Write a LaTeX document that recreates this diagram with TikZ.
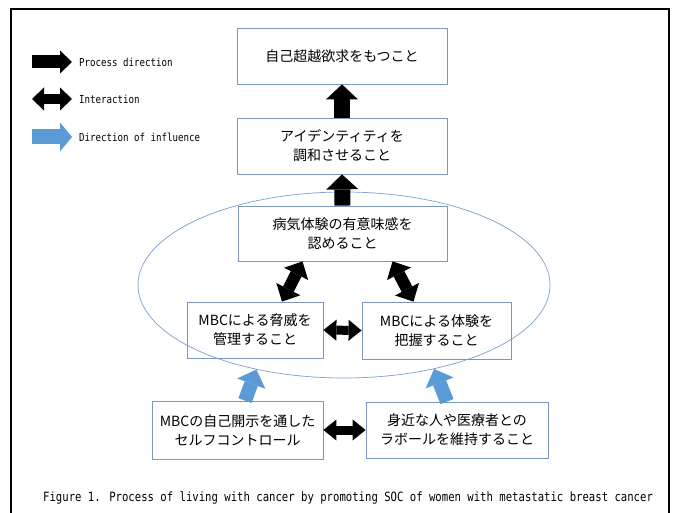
\documentclass[tikz,border=0pt]{standalone}
\usepackage{fontspec}
\newfontfamily\jp{Noto Sans CJK JP}
\newfontfamily\mono[FakeStretch=0.83]{DejaVu Sans Mono}
\usetikzlibrary{arrows.meta,shapes.geometric}
\definecolor{boxc}{HTML}{7D96BE}
\definecolor{ovalc}{HTML}{7BA0CD}
\definecolor{infl}{HTML}{5B9BD5}
\tikzset{
  box/.style={draw=boxc, line width=0.8pt, inner sep=0pt, align=center,
    font=\jp\fontsize{14}{19}\selectfont},
  procarrow/.style={line width=16pt, -{Triangle[length=15pt,width=32pt,line width=0pt]}},
  interarrow/.style={line width=12pt, {Triangle[length=14pt,width=27pt,line width=0pt]}-{Triangle[length=14pt,width=27pt,line width=0pt]}},
  harrow/.style={line width=9pt, {Triangle[length=13pt,width=21pt,line width=0pt]}-{Triangle[length=13pt,width=21pt,line width=0pt]}},
  inflarrow/.style={draw=infl, line width=14pt, -{Triangle[length=15pt,width=30pt,line width=0pt]}},
  legtext/.style={anchor=west, inner sep=0pt, font=\mono\fontsize{11}{13}\selectfont},
}
\begin{document}
\begin{tikzpicture}[x=1pt,y=-1pt]
\useasboundingbox (0,0) rectangle (674,513);
\fill[white] (0,0) rectangle (674,513);
% frame
\draw[line width=2pt] (11,520) -- (11,9) -- (669,9) -- (669,520);
% legend
\coordinate (pa) at (32,62);  \coordinate (pb) at (72,62);
\coordinate (ia) at (32,99);  \coordinate (ib) at (72,99);
\coordinate (da) at (32,137); \coordinate (db) at (72,137);
\draw[line width=13pt, -{Triangle[length=12pt,width=23pt,line width=0pt]}] (pa) -- (pb);
\draw[line width=10pt, {Triangle[length=12pt,width=23pt,line width=0pt]}-{Triangle[length=12pt,width=23pt,line width=0pt]}] (ia) -- (ib);
\draw[draw=infl, line width=15pt, -{Triangle[length=12pt,width=29pt,line width=0pt]}] (da) -- (db);
\node[legtext] (lt1) at (79,62) {Process direction};
\node[legtext] (lt2) at (79,99) {Interaction};
\node[legtext] (lt3) at (79,137) {Direction of influence};
% ellipse
\node[draw=ovalc, line width=0.7pt, ellipse, inner sep=0pt, minimum width=412pt, minimum height=186pt] (oval) at (344,285) {};
% boxes
\node[box, minimum width=210pt, minimum height=56pt] (b1) at (342,56) {自己超越欲求をもつこと};
\node[box, minimum width=210pt, minimum height=56pt] (b2) at (342,146) {アイデンティティを\\調和させること};
\node[box, minimum width=209pt, minimum height=55pt] (b3) at (342.5,233.5) {病気体験の有意味感を\\認めること};
\node[box, minimum width=136pt, minimum height=56pt] (b4) at (255,330) {MBCによる脅威を\\管理すること};
\node[box, minimum width=149pt, minimum height=57pt] (b5) at (436.5,330.5) {MBCによる体験を\\把握すること};
\node[box, minimum width=171pt, minimum height=58pt] (b6) at (237.5,430) {MBCの自己開示を通した\\セルフコントロール};
\node[box, minimum width=182pt, minimum height=56pt] (b7) at (457,430) {身近な人や医療者との\\ラボールを維持すること};
% process arrows
\draw[procarrow] (b2.north) -- (b1.south);
\draw[procarrow] (b3.north) -- (b2.south);
% interactions
\draw[interarrow] ([xshift=27pt]b4.north) -- ([xshift=-40pt]b3.south);
\draw[interarrow] ([xshift=50pt]b3.south) -- ([xshift=-23pt]b5.north);
\draw[harrow] (b4.east) -- (b5.west);
\draw[harrow] (b6.east) -- (b7.west);
% influence
\draw[inflarrow] ([xshift=7.5pt]b6.north) -- (oval.224);
\draw[inflarrow] ([xshift=-10pt]b7.north) -- (oval.317);
% caption
\node[anchor=west, inner sep=0pt, font=\mono\fontsize{12.8}{15}\selectfont] (cap) at (43,498)
  {Figure 1. Process of living with cancer by promoting SOC of women with metastatic breast cancer};
\end{tikzpicture}
\end{document}
